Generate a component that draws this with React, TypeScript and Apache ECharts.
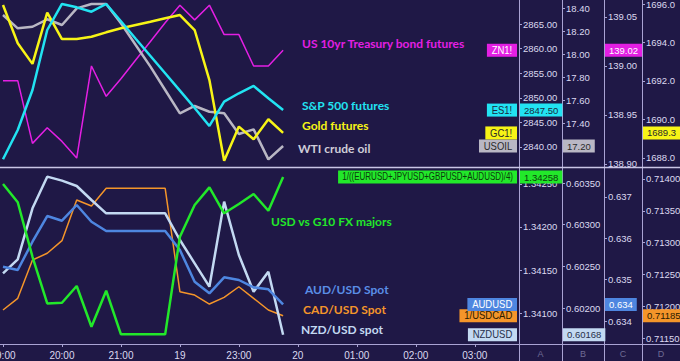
import React, { useEffect, useRef } from "react";
import * as echarts from "echarts";

// ---- x axis (quarter-hour slots) ----
const hourLabels = ["19:00", "20:00", "21:00", "19", "23:00", "20", "01:00", "02:00", "03:00"];
const slotTimes = Array.from({ length: 36 }, (_, i) => {
  const h = (19 + Math.floor(i / 4)) % 24;
  const m = (i % 4) * 15;
  return `${String(h).padStart(2, "0")}:${String(m).padStart(2, "0")}`;
});

// ---- top pane series ----
const sp500 = [2837.5, 2843.46, 2851.59, 2863.78, 2869.07, 2868.39, 2867.5, 2869.07, 2865.55, 2862.01, 2858.5, 2854.98, 2851.45, 2847.93, 2844.27, 2849.21, 2850.92, 2852.4, 2849.9, 2847.5];
const wtiOil = [18.339, 18.223, 18.237, 18.302, 18.252, 18.397, 18.435, 18.435, 18.267, 18.078, 17.89, 17.687, 17.484, 17.548, 17.498, 17.484, 17.304, 17.345, 17.084, 17.2];
const treasury = [138.985, 138.985, 138.921, 138.937, 138.923, 138.906, 139.0, 138.969, 138.987, 139.006, 139.025, 139.044, 139.062, 139.047, 139.062, 139.032, 139.032, 139.0, 139.0, 139.016];
const gold = [1695.95, 1693.96, 1692.89, 1695.55, 1694.18, 1694.18, 1694.3, 1694.53, 1694.74, 1694.91, 1695.08, 1695.26, 1695.43, 1694.65, 1692.05, 1687.86, 1689.63, 1688.97, 1690.01, 1689.3];

// ---- bottom pane series ----
const usdG10 = [1.3425, 1.342287, 1.341654, 1.341112, 1.341119, 1.341314, 1.34084, 1.341259, 1.340752, 1.340752, 1.340752, 1.340752, 1.341887, 1.342255, 1.342461, 1.342159, 1.342267, 1.342383, 1.342189, 1.34258];
const nzdUsd = [0.602416, 0.602584, 0.603196, 0.603576, 0.603528, 0.603464, 0.603296, 0.603136, 0.603136, 0.603136, 0.603136, 0.603136, 0.602816, 0.602536, 0.602256, 0.603276, 0.602636, 0.602196, 0.602436, 0.60168];
const audUsd = [0.635314, 0.635233, 0.635918, 0.63654, 0.636426, 0.636806, 0.636402, 0.636177, 0.636177, 0.636177, 0.636177, 0.636177, 0.635717, 0.63495, 0.63467, 0.635057, 0.634992, 0.634815, 0.634767, 0.6344];
const cadUsd = [0.71194, 0.712124, 0.712726, 0.712832, 0.71303, 0.71367, 0.713575, 0.713854, 0.713854, 0.713854, 0.713854, 0.713854, 0.712228, 0.712176, 0.712034, 0.71214, 0.712306, 0.712124, 0.71194, 0.71185];

// ---- axis tick labels ----
const spTicks = [2840, 2845, 2850, 2855, 2860, 2865];
const oilTicks = [17.2, 17.4, 17.6, 17.8, 18.0, 18.2, 18.4];
const tyTicks = [138.9, 138.95, 139.0, 139.05];
const goldTicks = [1688, 1690, 1692, 1694, 1696];
const g10Ticks = [1.341, 1.3415, 1.342, 1.3425];
const nzdTicks = [0.602, 0.6025, 0.603, 0.6035];
const audTicks = [0.634, 0.635, 0.636, 0.637];
const cadTicks = [0.7115, 0.712, 0.7125, 0.713, 0.7135, 0.714];

const BG = "#1f1846";
const SEP = "#a9a3d3";
const TXT = "#dcd9f0";
const AXFONT = "'Liberation Sans Narrow', 'Liberation Sans', sans-serif";
const LEGFONT = "Lato, 'Noto Sans', sans-serif";

const colX = [519, 562, 604, 642];
const colW = [43, 42, 38, 38];

type Spec = {
  name: string;
  data: number[];
  color: string;
  width: number;
  pane: number;
  col: number;
  min: number;
  max: number;
  ticks: number[];
  dec: number;
  tag: string;
  tagText: string;
  tagScale: number;
  legend: string;
  legendColor: string;
  legendX: number;
  legendY: number;
};

const specs: Spec[] = [
  { name: "US 10yr Treasury bond futures", data: treasury, color: "#e31fe3", width: 1.5, pane: 0, col: 2, min: 138.8969, max: 139.0673, ticks: tyTicks, dec: 2, tag: "ZN1!", tagText: "#ffffff", tagScale: 0.95, legend: "US 10yr Treasury bond futures", legendColor: "#e31fe3", legendX: 302, legendY: 43 },
  { name: "WTI crude oil", data: wtiOil, color: "#b9b7c4", width: 2.5, pane: 0, col: 1, min: 17.0174, max: 18.4696, ticks: oilTicks, dec: 2, tag: "USOIL", tagText: "#2a2a2a", tagScale: 0.95, legend: "WTI crude oil", legendColor: "#cfcdd8", legendX: 298, legendY: 148 },
  { name: "Gold futures", data: gold, color: "#f7f416", width: 2.5, pane: 0, col: 3, min: 1687.53, max: 1696.21, ticks: goldTicks, dec: 1, tag: "GC1!", tagText: "#2a2a2a", tagScale: 0.95, legend: "Gold futures", legendColor: "#f7f416", legendX: 302, legendY: 125 },
  { name: "S&P 500 futures", data: sp500, color: "#22e3f2", width: 2.5, pane: 0, col: 0, min: 2835.93, max: 2869.88, ticks: spTicks, dec: 2, tag: "ES1!", tagText: "#1a2a40", tagScale: 0.95, legend: "S&P 500 futures", legendColor: "#22e3f2", legendX: 302, legendY: 105 },
  { name: "CAD/USD Spot", data: cadUsd, color: "#f4952a", width: 1.5, pane: 1, col: 3, min: 0.711406, max: 0.714157, ticks: cadTicks, dec: 5, tag: "1/USDCAD", tagText: "#2a1a00", tagScale: 0.95, legend: "CAD/USD Spot", legendColor: "#f4952a", legendX: 303, legendY: 309 },
  { name: "NZD/USD spot", data: nzdUsd, color: "#c3d9f2", width: 2.5, pane: 1, col: 1, min: 0.601568, max: 0.603668, ticks: nzdTicks, dec: 5, tag: "NZDUSD", tagText: "#27304a", tagScale: 0.95, legend: "NZD/USD spot", legendColor: "#c3d9f2", legendX: 301, legendY: 329 },
  { name: "AUD/USD Spot", data: audUsd, color: "#4e86e0", width: 2.5, pane: 1, col: 2, min: 0.633444, max: 0.637677, ticks: audTicks, dec: 3, tag: "AUDUSD", tagText: "#ffffff", tagScale: 0.95, legend: "AUD/USD Spot", legendColor: "#5a8ee6", legendX: 305, legendY: 289 },
  { name: "USD vs G10 FX majors", data: usdG10, color: "#22e82a", width: 2.5, pane: 1, col: 0, min: 1.34064, max: 1.342674, ticks: g10Ticks, dec: 5, tag: "1/((EURUSD+JPYUSD+GBPUSD+AUDUSD)/4)", tagText: "#0c3a0c", tagScale: 0.8, legend: "USD vs G10 FX majors", legendColor: "#22e82a", legendX: 271, legendY: 221 },
];

export default function App() {
  const ref = useRef<HTMLDivElement>(null);
  useEffect(() => {
    const chart = echarts.init(ref.current!, null, { renderer: "svg" });
    const yAxes = specs.map((s) => ({
      type: "value",
      gridIndex: s.pane,
      position: "right",
      offset: colX[s.col] - 519,
      min: s.min,
      max: s.max,
      axisLine: { show: false },
      splitLine: { show: false },
      axisTick: { show: true, length: 3, customValues: s.ticks, lineStyle: { color: SEP, width: 1 } },
      axisLabel: {
        customValues: s.ticks,
        formatter: (v: number) => v.toFixed(s.dec),
        color: TXT,
        fontSize: 9.5,
        fontFamily: AXFONT,
        margin: 4,
      },
    }));
    const xAxisBase = {
      type: "category",
      data: slotTimes,
      boundaryGap: false,
      axisLine: { show: false },
      splitLine: { show: false },
    };
    const option: any = {
      animation: false,
      backgroundColor: BG,
      grid: [
        { left: 3, right: 161, top: 0, height: 167, containLabel: false, outerBoundsMode: "none" },
        { left: 3, right: 161, top: 169, height: 175, containLabel: false, outerBoundsMode: "none" },
      ],
      xAxis: [
        { ...xAxisBase, gridIndex: 0, axisTick: { show: false }, axisLabel: { show: false } },
        {
          ...xAxisBase,
          gridIndex: 1,
          axisTick: { show: true, interval: 3, length: 3, lineStyle: { color: SEP } },
          axisLabel: {
            interval: 3,
            alignMinLabel: "center",
            alignMaxLabel: "center",
            formatter: (_v: string, idx: number) => (idx % 4 === 0 ? hourLabels[idx / 4] ?? "" : ""),
            color: TXT,
            fontSize: 10,
            fontFamily: AXFONT,
            margin: 6,
          },
        },
      ],
      yAxis: yAxes,
      series: specs.map((s, i) => ({
        type: "line",
        name: s.name,
        xAxisIndex: s.pane,
        yAxisIndex: i,
        data: s.data,
        showSymbol: false,
        lineStyle: { color: s.color, width: s.width },
        itemStyle: { color: s.color },
        z: 2 + i,
      })),
    };
    chart.setOption(option);

    const graphics: any[] = [];
    colX.forEach((x) => {
      graphics.push({ type: "line", z: 50, shape: { x1: x + 0.5, y1: 0, x2: x + 0.5, y2: 361 }, style: { stroke: SEP, lineWidth: 1 } });
    });
    graphics.push({ type: "line", z: 50, shape: { x1: 0, y1: 167.5, x2: 680, y2: 167.5 }, style: { stroke: "#c9c5e6", lineWidth: 1.5 } });
    graphics.push({ type: "line", z: 50, shape: { x1: 0, y1: 344.5, x2: 680, y2: 344.5 }, style: { stroke: SEP, lineWidth: 1 } });
    ["A", "B", "C", "D"].forEach((t, k) => {
      graphics.push({ type: "text", z: 50, x: colX[k] + colW[k] / 2, y: 354, style: { text: t, fill: "#6f6b95", fontSize: 9, fontFamily: AXFONT, align: "center", verticalAlign: "middle" } });
    });

    specs.forEach((s, i) => {
      const last = s.data.length - 1;
      const val = s.data[last];
      const pt = chart.convertToPixel({ xAxisIndex: s.pane, yAxisIndex: i } as any, [last, val]) as number[];
      const y = pt[1];
      graphics.push({
        type: "text", z: 60, x: s.legendX, y: s.legendY,
        style: { text: s.legend, fill: s.legendColor, fontSize: 12, fontWeight: "bold", fontFamily: LEGFONT, align: "left", verticalAlign: "middle" },
      });
      graphics.push({
        type: "text", z: 70, x: 517, y: y, scaleX: s.tagScale,
        style: { text: s.tag, fill: s.tagText, backgroundColor: s.color, padding: [2, 5, 1, 5], fontSize: 10, fontFamily: AXFONT, align: "right", verticalAlign: "middle" },
      });
      const cx = colX[s.col];
      graphics.push({
        type: "text", z: 71, x: cx + 1, y: y,
        style: { text: val.toFixed(s.dec), fill: s.tagText, backgroundColor: s.color, padding: [2, 4, 1, 4], fontSize: 9.5, fontFamily: AXFONT, align: "left", verticalAlign: "middle" },
      });
    });
    chart.setOption({ graphic: graphics });
    return () => chart.dispose();
  }, []);
  return <div ref={ref} style={{ position: "fixed", left: 0, top: 0, width: 680, height: 361 }} />;
}
